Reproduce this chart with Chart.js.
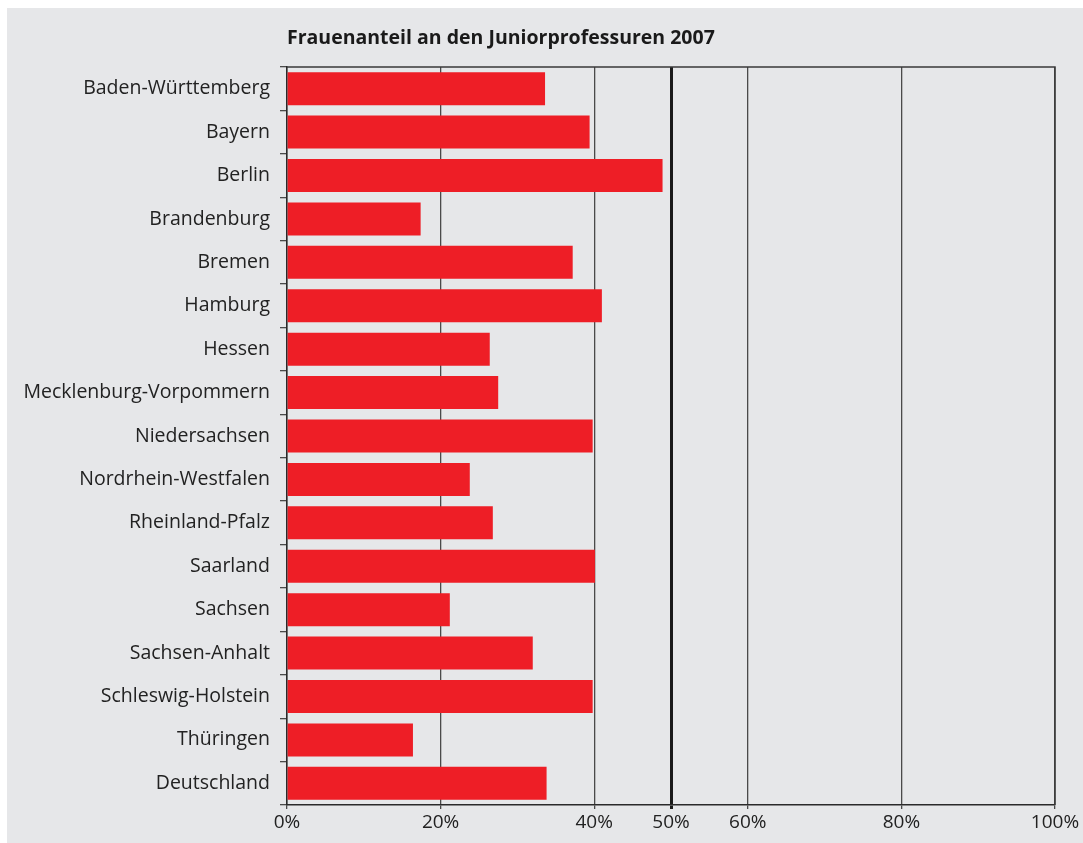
<!DOCTYPE html>
<html>
<head>
<meta charset="utf-8">
<script src="https://cdn.jsdelivr.net/npm/chart.js@4.4.1/dist/chart.umd.min.js"></script>
<style>
  html, body { margin: 0; padding: 0; background: #ffffff; }
  #wrap { width: 1083px; height: 843px; position: relative; }
</style>
</head>
<body>
<div id="wrap"><canvas id="c" width="1083" height="843"></canvas></div>
<script>
const title = 'Frauenanteil an den Juniorprofessuren 2007';
const categories = [
  'Baden-Württemberg', 'Bayern', 'Berlin', 'Brandenburg', 'Bremen', 'Hamburg',
  'Hessen', 'Mecklenburg-Vorpommern', 'Niedersachsen', 'Nordrhein-Westfalen',
  'Rheinland-Pfalz', 'Saarland', 'Sachsen', 'Sachsen-Anhalt',
  'Schleswig-Holstein', 'Thüringen', 'Deutschland'
];
const shareWomen = [33.6, 39.4, 48.9, 17.4, 37.2, 41.0, 26.4, 27.5, 39.8, 23.8, 26.8, 40.1, 21.2, 32.0, 39.8, 16.4, 33.8];
const xTickValues = [0, 20, 40, 50, 60, 80, 100];

const FONT = '"Open Sans", "Noto Sans", sans-serif';

const decor = {
  id: 'decor',
  beforeDraw(chart) {
    const ctx = chart.ctx;
    ctx.save();
    ctx.fillStyle = '#e6e7e9';
    ctx.fillRect(7, 8, chart.width - 7, chart.height - 8);
    ctx.restore();
  },
  afterDraw(chart) {
    const ctx = chart.ctx;
    const a = chart.chartArea;
    ctx.save();
    ctx.strokeStyle = '#3a3a3a';
    ctx.lineWidth = 1.5;
    ctx.beginPath();
    ctx.moveTo(a.left, a.top);
    ctx.lineTo(a.right, a.top);
    ctx.lineTo(a.right, a.bottom);
    ctx.stroke();
    ctx.fillStyle = '#1a1a1a';
    ctx.font = 'bold 19.5px ' + FONT;
    ctx.textBaseline = 'middle';
    ctx.textAlign = 'left';
    ctx.fillText(title, a.left, 38);
    ctx.restore();
  }
};

new Chart(document.getElementById('c'), {
  type: 'bar',
  data: {
    labels: categories,
    datasets: [{
      data: shareWomen,
      backgroundColor: '#ee1e26',
      borderWidth: 0,
      barPercentage: 0.76,
      categoryPercentage: 1.0
    }]
  },
  options: {
    indexAxis: 'y',
    responsive: false,
    animation: false,
    layout: { padding: { left: 7, top: 67, right: 28, bottom: 0 } },
    plugins: { legend: { display: false }, title: { display: false }, tooltip: { enabled: false } },
    scales: {
      x: {
        min: 0, max: 100,
        afterBuildTicks(scale) { scale.ticks = xTickValues.map(v => ({ value: v })); },
        afterFit(scale) { scale.height = 38; },
        ticks: {
          callback: v => v + '%',
          color: '#222',
          font: { family: FONT, size: 19 },
          padding: 2,
          maxRotation: 0,
          autoSkip: false
        },
        grid: {
          color: ctx => (ctx.tick && ctx.tick.value === 50) ? '#1a1a1a' : '#4a4a4a',
          lineWidth: ctx => (ctx.tick && ctx.tick.value === 50) ? 3 : 1.3,
          tickLength: 4,
          drawOnChartArea: true
        },
        border: { color: '#2a2a2a', width: 1.5 }
      },
      y: {
        afterFit(scale) { scale.width = 280; },
        ticks: {
          color: '#222',
          font: { family: FONT, size: 19.5 },
          padding: 10,
          autoSkip: false
        },
        grid: {
          offset: true,
          drawOnChartArea: false,
          tickLength: 7,
          color: '#4a4a4a',
          lineWidth: 1.3
        },
        border: { color: '#2a2a2a', width: 1.5 }
      }
    }
  },
  plugins: [decor]
});
</script>
</body>
</html>
